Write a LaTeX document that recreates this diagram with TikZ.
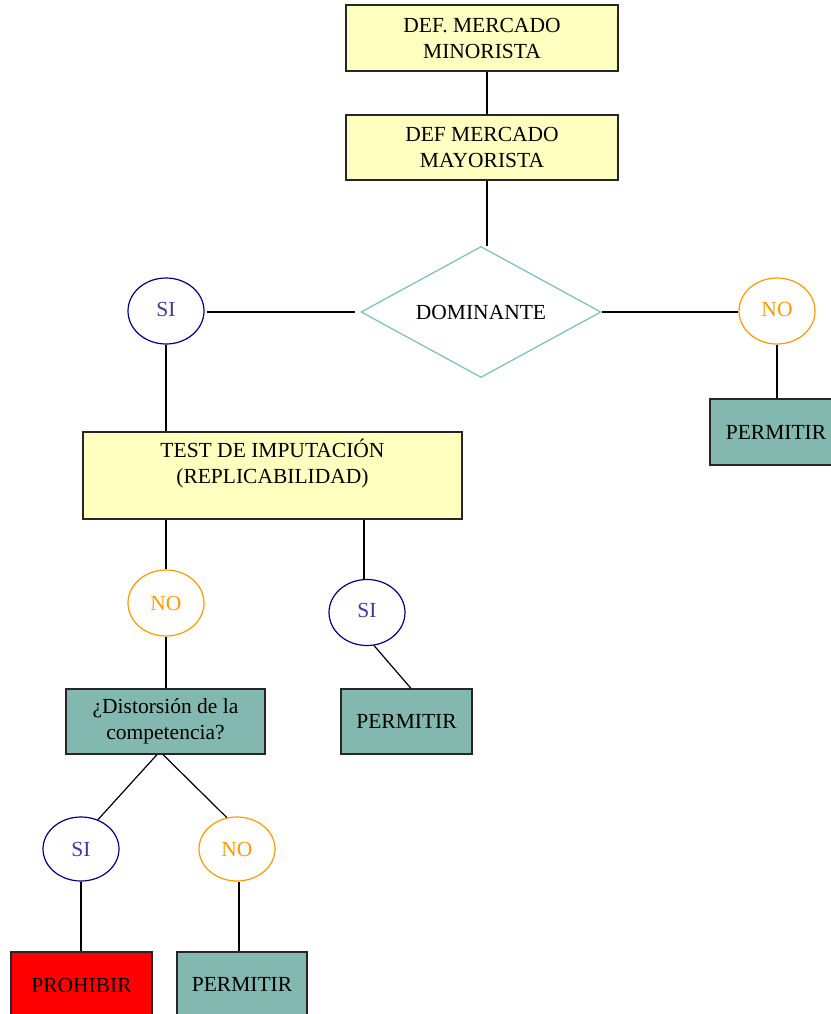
\documentclass[tikz,border=0pt]{standalone}
\usepackage{fontspec}
\setmainfont{Liberation Serif}
\usetikzlibrary{shapes.geometric}
\definecolor{boxyellow}{HTML}{FFFFC0}
\definecolor{boxteal}{HTML}{82B8B0}
\definecolor{siblue}{HTML}{000080}
\definecolor{sitext}{HTML}{3C3CA0}
\definecolor{noorange}{HTML}{FF9900}
\definecolor{diamondline}{HTML}{7FBFB2}
\definecolor{prohred}{HTML}{FF0000}
\begin{document}
\begin{tikzpicture}[x=1pt,y=-1pt,
  every node/.style={font=\fontsize{21.5}{26}\selectfont, align=center, inner sep=0pt},
  ybox/.style={rectangle, draw=black!85, line width=1.2pt, fill=boxyellow},
  tbox/.style={rectangle, draw=black!85, line width=1.2pt, fill=boxteal},
  rbox/.style={rectangle, draw=black!85, line width=1.2pt, fill=prohred},
  sinode/.style={ellipse, draw=siblue, line width=1.2pt, text=sitext, minimum width=76pt, minimum height=66pt},
  nonode/.style={ellipse, draw=noorange, line width=1.2pt, text=noorange, minimum width=76pt, minimum height=66pt},
  link/.style={draw=black, line width=1.2pt}]
\useasboundingbox (0,0) rectangle (830,1014);
\fill[white] (0,0) rectangle (830,1014);

\node[ybox, minimum width=272pt, minimum height=66pt] (b1) at (482,38) {DEF. MERCADO\\MINORISTA};
\node[ybox, minimum width=272pt, minimum height=65pt] (b2) at (482,147.5) {DEF MERCADO\\MAYORISTA};
\node[diamond, draw=diamondline, line width=1.2pt, aspect=1.83, minimum width=240pt, minimum height=131pt] (dom) at (481,312) {\raisebox{-2pt}{DOMINANTE}};

\node[sinode] (si1) at (166,311) {\raisebox{4pt}{SI}};
\node[nonode] (no1) at (777,311) {\raisebox{4pt}{NO}};
\node[tbox, minimum width=132pt, minimum height=66pt] (p1) at (776,432) {PERMITIR};

\node[ybox, minimum width=379pt, minimum height=87pt] (test) at (272.5,475.5) {};
\node (testlbl) at (272.5,464) {TEST DE IMPUTACIÓN\\(REPLICABILIDAD)};

\node[nonode] (no2) at (166,603) {NO};
\node[sinode] (si2) at (367,612.5) {\raisebox{4pt}{SI}};
\node[tbox, minimum width=131pt, minimum height=65pt] (p2) at (406.5,721.5) {PERMITIR};
\node[tbox, minimum width=199pt, minimum height=65pt] (dist) at (165.5,721.5) {¿Distorsión de la\\competencia?};

\node[sinode, minimum height=64pt] (si3) at (81,849) {SI};
\node[nonode, minimum height=64pt] (no3) at (237,849) {NO};
\node[rbox, minimum width=141pt, minimum height=66pt] (proh) at (81.5,985) {PROHIBIR};
\node[tbox, minimum width=130pt, minimum height=66pt] (p3) at (242,985) {\raisebox{2pt}{PERMITIR}};

% connectors
\draw[link] ([xshift=5pt]b1.south) -- ([xshift=5pt]b2.north);
\draw[link] ([xshift=5pt]b2.south) -- ([xshift=5pt]b2.south |- dom.north);
\draw[link] (si1.east |- dom.west) ++(2,0) -- ([xshift=-5pt]dom.west);
\draw[link] (dom.east) -- (no1.west |- dom.east);
\draw[link] (no1.south) -- (no1.south |- p1.north);
\draw[link] (si1.south) -- (si1.south |- test.north);
\draw[link] (no2.north) -- (no2.north |- test.south);
\draw[link] ([xshift=-3pt]si2.north) -- ([xshift=-3pt]si2.north |- test.south);
\draw[link] (si2.-78) -- ([xshift=4.5pt]p2.north);
\draw[link] (no2.south) -- (no2.south |- dist.north);
\draw[link] ([xshift=-8.5pt]dist.south) -- (si3.60);
\draw[link] ([xshift=-2.5pt]dist.south) -- (no3.108);
\draw[link] (si3.south) -- (si3.south |- proh.north);
\draw[link] ([xshift=2pt]no3.south) -- ([xshift=2pt]no3.south |- p3.north);
\end{tikzpicture}
\end{document}
